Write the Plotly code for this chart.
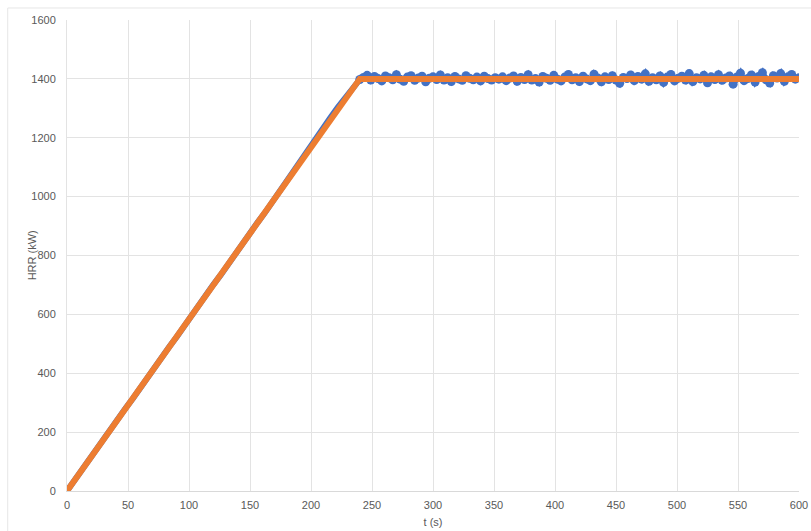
import plotly.graph_objects as go

# Measured heat release rate (blue): ramp sampled every 6 s, plateau every 3 s
ramp_time = list(range(0, 240, 6))
ramp_hrr = [0, 36, 71, 104, 141, 176, 209, 246, 281, 314, 351, 386, 419, 456,
            491, 524, 561, 596, 629, 666, 701, 734, 771, 806, 839, 876, 911,
            944, 981, 1016, 1051, 1086, 1122, 1158, 1198, 1235, 1269, 1303,
            1335, 1370]
plateau_time = list(range(240, 601, 3))
plateau_hrr = [
    1398, 1405, 1412, 1396, 1408, 1401, 1393, 1410, 1404, 1397, 1414, 1399,
    1392, 1406, 1411, 1395, 1403, 1409, 1390, 1402, 1407,
    1398, 1413, 1396, 1404, 1391, 1408, 1400, 1395, 1411, 1402, 1397, 1406,
    1393, 1409, 1401, 1396, 1404, 1399, 1407, 1394,
    1403, 1410, 1392, 1405, 1398, 1414, 1396, 1401, 1389, 1408, 1402, 1395,
    1412, 1399, 1393, 1406, 1415, 1397, 1404, 1391,
    1409, 1400, 1394, 1416, 1403, 1390, 1407, 1398, 1411, 1396, 1385, 1405,
    1401, 1413, 1394, 1408, 1399, 1417, 1392, 1404,
    1397, 1410, 1388, 1406, 1415, 1393, 1402, 1409, 1396, 1418, 1391, 1404,
    1400, 1412, 1387, 1407, 1398, 1414, 1395, 1403,
    1410, 1382, 1406, 1419, 1394, 1401, 1413, 1389, 1408, 1421, 1397, 1386,
    1411, 1403, 1418, 1392, 1407, 1415, 1399, 1404,
]

# Design fire curve (orange): linear growth then steady state
design_time = [0, 240, 600]
design_hrr = [0, 1400, 1400]

x_ticks = list(range(0, 601, 50))
y_ticks = list(range(0, 1601, 200))

measured_time = ramp_time + plateau_time
measured_hrr = ramp_hrr + plateau_hrr
# thin trace on the ramp, heavier dots on the noisy plateau
marker_sizes = [3] * len(ramp_time) + [9] * len(plateau_time)

fig = go.Figure()
fig.add_trace(go.Scatter(
    x=measured_time, y=measured_hrr, mode="lines+markers",
    line=dict(color="#4472C4", width=6),
    marker=dict(color="#4472C4", size=marker_sizes, opacity=1,
                line=dict(width=0)),
    showlegend=False,
))
fig.add_trace(go.Scatter(
    x=design_time, y=design_hrr, mode="lines",
    line=dict(color="#ED7D31", width=6), showlegend=False,
))

tick_font = dict(family="Liberation Sans, Arial, sans-serif", size=11, color="#595959")

fig.update_layout(
    width=811, height=531,
    margin=dict(l=67, r=12, t=20, b=40),
    paper_bgcolor="white", plot_bgcolor="white",
    font=tick_font,
    xaxis=dict(
        range=[0, 600], tickvals=x_ticks, showgrid=True, gridcolor="#e3e3e3",
        gridwidth=1, zeroline=False, showline=True, linecolor="#d9d9d9",
        mirror=False, ticks="", tickfont=tick_font, automargin=False,
        ticklabelstandoff=4,
        title=dict(text="t (s)", font=tick_font, standoff=8),
    ),
    yaxis=dict(
        range=[0, 1600], tickvals=y_ticks, showgrid=True, gridcolor="#e3e3e3",
        gridwidth=1, zeroline=False, showline=True, linecolor="#e3e3e3",
        ticks="", tickfont=tick_font, ticklabelstandoff=8, automargin=False,
    ),
    annotations=[
        dict(text="HRR (kW)", textangle=-90, xref="paper", yref="paper",
             x=-0.048, y=0.5, xanchor="center", yanchor="middle",
             showarrow=False, font=tick_font),
    ],
    shapes=[
        dict(type="line", xref="paper", yref="paper", x0=-0.081, x1=1.02,
             y0=1.0255, y1=1.0255, line=dict(color="#e6e6e6", width=1)),
        dict(type="line", xref="paper", yref="paper", x0=-0.081, x1=-0.081,
             y0=-0.1, y1=1.0255, line=dict(color="#e6e6e6", width=1)),
    ],
)

fig.write_html("out.html")
